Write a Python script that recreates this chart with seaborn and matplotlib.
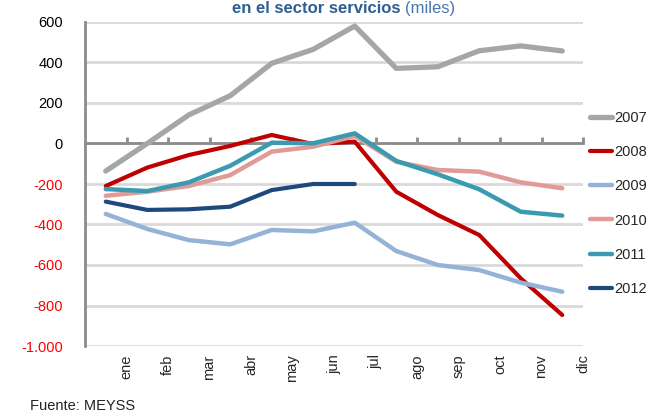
import matplotlib
matplotlib.use("Agg")
import matplotlib.pyplot as plt
import numpy as np
import pandas as pd
import seaborn as sns

# data (miles)
months = ["ene", "feb", "mar", "abr", "may", "jun", "jul", "ago", "sep", "oct", "nov", "dic"]
years = ["2007", "2008", "2009", "2010", "2011", "2012"]
v2007 = [-136, 0, 141, 236, 396, 465, 580, 371, 379, 458, 482, 457]
v2008 = [-210, -119, -57, -12, 42, -3, 9, -238, -353, -452, -666, -847]
v2009 = [-348, -422, -477, -498, -427, -434, -391, -531, -600, -625, -687, -732]
v2010 = [-258, -238, -210, -156, -40, -16, 37, -90, -131, -139, -192, -221]
v2011 = [-225, -235, -192, -110, 4, 1, 50, -86, -152, -226, -337, -356]
v2012 = [-287, -328, -325, -312, -230, -200, -200, np.nan, np.nan, np.nan, np.nan, np.nan]
y_ticks = [600, 400, 200, 0, -200, -400, -600, -800, -1000]

series = [v2007, v2008, v2009, v2010, v2011, v2012]
colors = ["#a6a6a6", "#c00000", "#95b3d7", "#e09b99", "#3a9bb0", "#1f497d"]
widths = [3.8, 3.0, 3.2, 3.2, 3.2, 3.0]

df = pd.DataFrame(
    {"pos": np.tile(np.arange(len(months)), len(years)),
     "year": np.repeat(years, len(months)),
     "value": np.concatenate(series)}
)

sns.set_style("white")
plt.rcParams["font.family"] = ["Liberation Sans", "DejaVu Sans"]

fig = plt.figure(figsize=(6.55, 4.15), dpi=100)
ax = fig.add_axes([85 / 655, 1 - 346 / 415, 498 / 655, 324 / 415])

for yr, col, lw in zip(years, colors, widths):
    sns.lineplot(data=df[df["year"] == yr], x="pos", y="value", color=col,
                 lw=lw, label=yr, ax=ax, estimator=None, sort=False)

ax.set_xlim(-0.5, len(months) - 0.5)
ax.set_ylim(-1000, 600)

# grid
ax.set_yticks(y_ticks)
ax.grid(axis="y", color="#d9d9d9", lw=2)
ax.set_axisbelow(True)

for s in ["top", "right", "bottom"]:
    ax.spines[s].set_visible(False)
ax.spines["left"].set_color("#8c8c8c")
ax.spines["left"].set_linewidth(2)

ax.set_yticklabels([f"{t:,}".replace(",", ".") for t in y_ticks])
ax.tick_params(axis="y", direction="out", length=5, width=2, color="#8c8c8c",
               labelsize=10.5, pad=11)
for lab, t in zip(ax.get_yticklabels(), y_ticks):
    lab.set_color("red" if t < 0 else "black")

# month labels sit at the right boundary of each category
bounds = np.arange(len(months)) + 0.5
ax.set_xticks(bounds)
ax.set_xticklabels(months, rotation=90, fontsize=10.5)
ax.tick_params(axis="x", length=0, pad=6)
ax.set_xlabel("")
ax.set_ylabel("")

# category axis crossing at zero
zero_pos = (0 - (-1000)) / (600 - (-1000))
sec = ax.secondary_xaxis(zero_pos)
sec.set_xticks(bounds)
sec.set_xticklabels([])
sec.tick_params(axis="x", direction="out", length=4, width=2, color="#8c8c8c")
for s in sec.spines.values():
    s.set_visible(False)
sec.spines["bottom"].set_visible(True)
sec.spines["bottom"].set_color("#8c8c8c")
sec.spines["bottom"].set_linewidth(2)
ax.axhline(0, color="#8c8c8c", lw=2, zorder=1)

leg = ax.legend(loc="upper left", frameon=False,
                fontsize=10.5, handlelength=1.5, handletextpad=0.15,
                labelspacing=1.39, borderaxespad=0)
leg.set_bbox_to_anchor((1.002, 0.744), transform=ax.transAxes)

# title at the top edge (kept fully visible)
fig.text(400 / 655, 1 - 13 / 415, "en el sector servicios", color="#2f5e91",
         fontsize=12, fontweight="bold", ha="right", va="baseline")
fig.text(405 / 655, 1 - 13 / 415, "(miles)", color="#4a76ab",
         fontsize=12, ha="left", va="baseline")

fig.text(30 / 655, 1 - 410 / 415, "Fuente: MEYSS", color="#222222",
         fontsize=10.5, ha="left", va="baseline")

fig.savefig("out.png", dpi=100)
